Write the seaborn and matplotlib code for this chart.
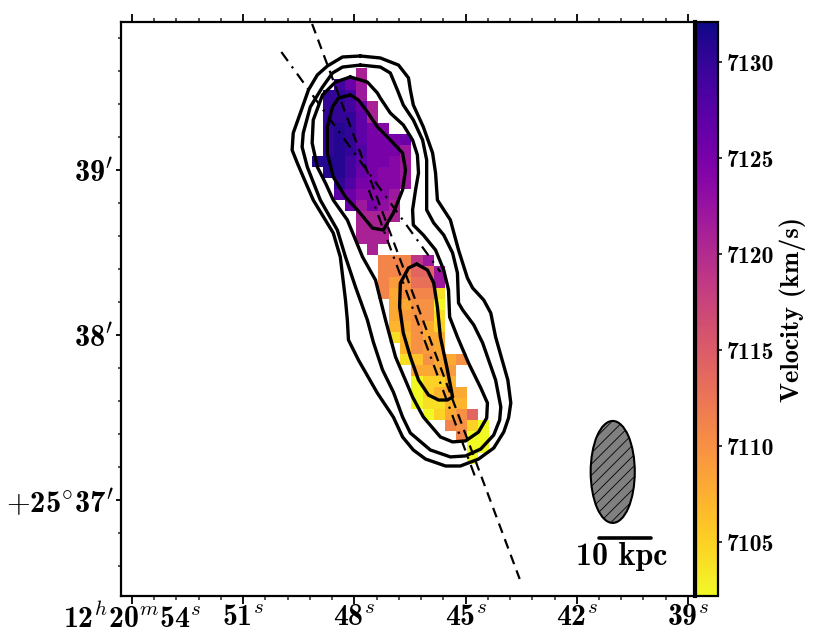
import numpy as np
import pandas as pd
import matplotlib.pyplot as plt
from matplotlib.patches import Ellipse
import seaborn as sns

# velocity map, one row per 4 arcsec going south, first_col is the first filled column
first_col = [4, 2, 1, 1, 1, 1, 1, 1, 0, 1, 2, 2, 3, 4, 4, 4, 5,
             6, 6, 6, 6, 7, 7, 7, 7, 8, 8, 9, 9, 9, 9, 10, 12, 13, 14, 14]
velocity_rows = [
    [7121],
    [7129, 7126, 7122],
    [7130, 7130, 7129, 7122],
    [7130, 7130, 7129, 7126, 7121],
    [7130, 7130, 7130, 7127, 7121],
    [7130, 7131, 7130, 7127, 7125, 7124],
    [7130, 7131, 7130, 7127, 7125, 7125, 7125, 7126],
    [7130, 7131, 7130, 7128, 7125, 7125, 7125, 7122],
    [7131, 7131, 7131, 7129, 7127, 7125, 7125, 7124, 7122],
    [7131, 7131, 7129, 7126, 7125, 7124, 7124, 7122],
    [7130, 7128, 7125, 7125, 7124, 7124, 7122],
    [7127, 7126, 7124, 7124, 7124, 7122],
    [7126, 7122, 7125, 7123, 7121],
    [7121, 7121, 7121, 7121],
    [7121, 7121, 7121],
    [7121, 7121, 7121],
    [7121],
    [7111, 7111, 7111, 7119, 7122],
    [7111, 7111, 7111, 7114, 7114, 7122],
    [7111, 7109, 7110, 7113, 7113, 7122],
    [7111, 7108, 7110, 7111, 7111, 7104],
    [7108, 7108, 7110, 7110, 7102],
    [7108, 7109, 7110, 7110, 7104],
    [7107, 7108, 7110, 7108, 7105],
    [7104, 7107, 7110, 7108, 7108],
    [7107, 7110, 7109, 7108],
    [7104, 7106, 7110, 7108, 7108, 7110],
    [7108, 7108, 7108, 7109],
    [7102, 7105, 7105, 7107],
    [7102, 7105, 7107, 7108, 7108],
    [7102, 7104, 7104, 7107, 7107],
    [7102, 7105, 7108, 7110, 7114],
    [7111, 7110, 7105, 7102],
    [7111, 7102, 7102],
    [7102, 7102],
    [7102],
]

# contours in RA seconds (12h20m..) and Dec arcmin (+25d..)
outer_ra = [47.84, 47.30, 46.81, 46.54, 46.49, 46.41, 46.14, 45.89, 45.81, 45.76, 45.41, 45.19, 44.95, 44.81, 44.51,
            44.32, 44.19, 43.86, 43.78, 43.84, 43.97, 44.24, 44.65, 45.14, 45.54, 46.08, 46.41, 46.70, 46.95, 47.38,
            47.89, 48.16, 48.19, 48.24, 48.38, 48.57, 49.11, 49.38, 49.54, 49.68, 49.65, 49.41, 49.24, 49.00, 48.73,
            48.32]
outer_dec = [39.691, 39.679, 39.636, 39.558, 39.485, 39.394, 39.261, 39.103, 38.982, 38.818, 38.697, 38.515, 38.345,
             38.285, 38.212, 38.133, 37.988, 37.727, 37.588, 37.497, 37.412, 37.315, 37.248, 37.206, 37.206, 37.248,
             37.303, 37.382, 37.503, 37.648, 37.848, 37.970, 38.091, 38.212, 38.473, 38.618, 38.818, 38.958, 39.042,
             39.121, 39.224, 39.376, 39.485, 39.576, 39.630, 39.685]
middle_ra = [47.84, 47.30, 47.03, 46.84, 46.68, 46.41, 46.16, 46.05, 46.05, 46.05, 45.86, 45.59, 45.35, 45.22, 45.19,
             45.08, 44.78, 44.54, 44.19, 44.05, 44.08, 44.24, 44.59, 45.00, 45.41, 45.95, 46.49, 46.70, 46.95, 47.24,
             47.49, 47.65, 47.97, 48.24, 48.46, 48.92, 49.27, 49.41, 49.38, 49.19, 48.86, 48.59, 48.32]
middle_dec = [39.636, 39.624, 39.588, 39.485, 39.394, 39.303, 39.182, 39.061, 38.818, 38.758, 38.679, 38.606, 38.497,
              38.376, 38.194, 38.152, 38.061, 37.952, 37.727, 37.564, 37.485, 37.394, 37.309, 37.267, 37.261, 37.303,
              37.406, 37.503, 37.655, 37.788, 37.958, 38.091, 38.291, 38.473, 38.636, 38.818, 39.018, 39.139, 39.224,
              39.382, 39.503, 39.588, 39.624]
inner_ra = [48.11, 47.65, 47.38, 47.30, 47.03, 46.68, 46.43, 46.30, 46.27, 46.35, 46.43, 46.41, 46.14, 45.81, 45.59,
            45.46, 45.43, 45.22, 44.92, 44.59, 44.41, 44.43, 44.65, 45.00, 45.35, 45.68, 46.14, 46.43, 46.89, 47.16,
            47.43, 47.78, 48.19, 48.57, 48.78, 49.00, 49.14, 49.11, 48.86, 48.51]
inner_dec = [39.564, 39.533, 39.467, 39.436, 39.345, 39.273, 39.182, 39.091, 38.982, 38.879, 38.758, 38.667, 38.606,
             38.515, 38.394, 38.273, 38.109, 37.988, 37.830, 37.679, 37.588, 37.497, 37.412, 37.358, 37.352, 37.382,
             37.503, 37.624, 37.867, 38.091, 38.333, 38.473, 38.697, 38.818, 38.921, 39.018, 39.164, 39.303, 39.455,
             39.533]
north_core_ra = [48.11, 47.89, 47.65, 47.38, 47.03, 46.70, 46.62, 46.70, 46.95, 47.22, 47.51, 47.92, 48.24, 48.57,
                 48.73, 48.73, 48.59, 48.43]
north_core_dec = [39.455, 39.424, 39.352, 39.261, 39.182, 39.103, 39.000, 38.879, 38.739, 38.636, 38.648, 38.758,
                  38.836, 38.958, 39.103, 39.261, 39.382, 39.436]
south_core_ra = [46.32, 46.03, 45.86, 45.76, 45.68, 45.49, 45.35, 45.49, 45.73, 46.00, 46.27, 46.49, 46.68, 46.78,
                 46.76, 46.54]
south_core_dec = [38.430, 38.394, 38.315, 38.170, 37.988, 37.788, 37.624, 37.606, 37.606, 37.636, 37.727, 37.867,
                  38.012, 38.170, 38.315, 38.406]

dashed_ra = [49.14, 43.54]
dashed_dec = [39.885, 36.521]
dashdot1_ra = [49.97, 45.68]
dashdot1_dec = [39.715, 38.382]
dashdot2_ra = [47.61, 44.73]
dashdot2_dec = [38.879, 37.133]

ra_ticks = [54, 51, 48, 45, 42, 39]
dec_ticks = [39, 38, 37]
ra_labels = [r"12$^{h}$20$^{m}$54$^{s}$", r"51$^{s}$", r"48$^{s}$", r"45$^{s}$", r"42$^{s}$", r"39$^{s}$"]
dec_labels = [r"39$^{\prime}$", r"38$^{\prime}$", r"$+$25$^{\circ}$37$^{\prime}$"]
cbar_ticks = [7105, 7110, 7115, 7120, 7125, 7130]

# map grid origin and cell size
ra0, dec0 = 49.135, 39.62
dra, ddec = 0.2973, 0.0667
ra_lim = (54.297, 38.81)
dec_lim = (36.418, 39.897)


def to_col(ra):
    return (ra0 - np.asarray(ra, dtype=float)) / dra


def to_row(dec):
    return (dec0 - np.asarray(dec, dtype=float)) / ddec


grid = np.full((len(velocity_rows), 16), np.nan)
for r, vals in enumerate(velocity_rows):
    grid[r, first_col[r]:first_col[r] + len(vals)] = vals
velocity = pd.DataFrame(grid)

sns.set_theme(style="ticks")
plt.rcParams['font.family'] = ['cmb10', 'DejaVu Sans']
plt.rcParams['mathtext.fontset'] = 'cm'
plt.rcParams['axes.formatter.use_mathtext'] = True
plt.rcParams['hatch.linewidth'] = 0.6

fig = plt.figure(figsize=(8.14, 6.38), dpi=100)
ax = fig.add_axes([121 / 814, 1 - 596 / 638, (695 - 121) / 814, (596 - 22) / 638])
cax = fig.add_axes([696 / 814, 1 - 596 / 638, 22 / 814, (596 - 22) / 638])

sns.heatmap(velocity, ax=ax, cbar_ax=cax, cmap="plasma_r", vmin=7102.2, vmax=7132.1,
            xticklabels=False, yticklabels=False)
ax.set_xlim(to_col(ra_lim[0]), to_col(ra_lim[1]))
ax.set_ylim(to_row(dec_lim[0]), to_row(dec_lim[1]))

# contours
for ra, dec in [(outer_ra, outer_dec), (middle_ra, middle_dec), (inner_ra, inner_dec),
                (north_core_ra, north_core_dec), (south_core_ra, south_core_dec)]:
    sns.lineplot(x=to_col(ra + ra[:1]), y=to_row(dec + dec[:1]), sort=False, estimator=None,
                 color='black', lw=2.4, solid_joinstyle='round', ax=ax)

# axis lines
sns.lineplot(x=to_col(dashed_ra), y=to_row(dashed_dec), sort=False, estimator=None, color='black',
             lw=1.6, ls=(0, (4.5, 3)), ax=ax)
for ra, dec in [(dashdot1_ra, dashdot1_dec), (dashdot2_ra, dashdot2_dec)]:
    sns.lineplot(x=to_col(ra), y=to_row(dec), sort=False, estimator=None, color='black',
                 lw=1.6, ls=(0, (5, 3, 1, 3)), ax=ax)

# beam and scale bar
ax.add_patch(Ellipse((to_col(41.03), to_row(37.17)), 1.19 / dra, 0.618 / ddec, facecolor='gray',
                     edgecolor='black', lw=1.5, hatch='///'))
sns.lineplot(x=to_col([41.41, 40.0]), y=to_row([36.77, 36.77]), sort=False, estimator=None,
             color='black', lw=2.6, ax=ax)
ax.text(to_col(40.80), to_row(36.66), "10 kpc", fontsize=23, ha='center', va='center', color='black')

# ticks like a sky plot
ax.set_xticks(to_col(ra_ticks))
ax.set_xticklabels(ra_labels, fontsize=21.5)
ax.set_yticks(to_row(dec_ticks))
ax.set_yticklabels(dec_labels, fontsize=22)
ax.set_xticks(to_col(np.arange(39, 54.01, 0.6)), minor=True)
ax.set_yticks(to_row(np.arange(36.6, 39.81, 0.2)), minor=True)
ax.tick_params(axis='x', which='major', top=True, bottom=True, direction='out', length=5.5, width=1.3,
               pad=0, colors='black')
ax.tick_params(axis='x', which='minor', top=True, bottom=True, direction='out', length=3, width=1.1)
ax.tick_params(axis='y', which='major', left=True, right=False, direction='out', length=3.5, width=1.3,
               pad=2, colors='black')
ax.tick_params(axis='y', which='minor', left=True, right=False, direction='out', length=2, width=1.1)
for side in ['top', 'bottom', 'left']:
    ax.spines[side].set_visible(True)
    ax.spines[side].set_linewidth(1.6)
    ax.spines[side].set_color('black')
ax.spines['right'].set_visible(True)
ax.spines['right'].set_linewidth(3)
ax.spines['right'].set_color('black')

# colour bar
cbar = ax.collections[0].colorbar
cbar.set_ticks(cbar_ticks)
cbar.set_ticklabels([str(t) for t in cbar_ticks])
cbar.ax.tick_params(labelsize=17, length=3, width=1.1, pad=3, colors='black')
cbar.ax.minorticks_off()
cbar.outline.set_visible(True)
cbar.outline.set_linewidth(1.6)
cbar.outline.set_edgecolor('black')
cbar.set_label("Velocity (km/s)", fontsize=19, color='black', labelpad=4)

fig.savefig("out.png", dpi=100)
